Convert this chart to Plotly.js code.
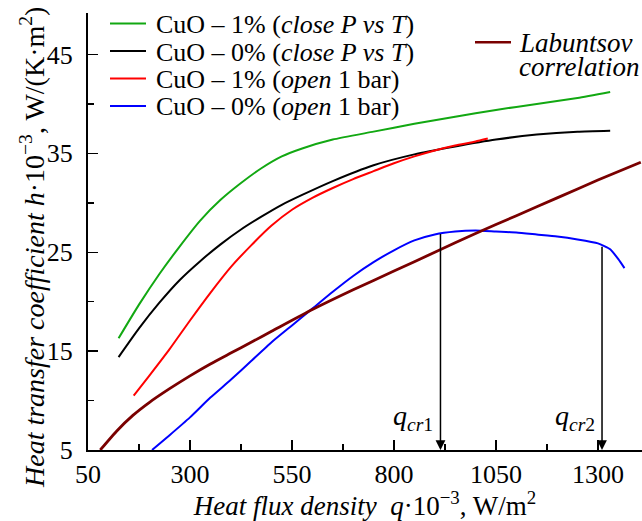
<!DOCTYPE html>
<html><head><meta charset="utf-8">
<script src="https://cdn.plot.ly/plotly-3.0.1.min.js"></script>
<style>html,body{margin:0;padding:0;background:#fff}#chart{width:642px;height:521px}</style>
</head><body><div id="chart"></div>
<script>
const FONT = 'Liberation Serif, Times New Roman, serif';

// Series names (legend)
const seriesNames = [
  'CuO \u2013 1% (<i>close P vs T</i>)',
  'CuO \u2013 0% (<i>close P vs T</i>)',
  'CuO \u2013 1% (<i>open</i> 1 bar)',
  'CuO \u2013 0% (<i>open</i> 1 bar)'
];
const labuntsovName = ['<i>Labuntsov</i>', '<i>correlation</i>'];

// Heat flux density q·10^-3 (W/m2) and heat transfer coefficient h·10^-3
const greenX = [125,175,225,275,325,375,425,475,525,575,650,750,850,950,1050,1150,1250,1330];
const greenY = [16.3,19.7,22.8,25.6,28.2,30.3,32.0,33.5,34.7,35.5,36.4,37.2,38.0,38.7,39.4,40.0,40.6,41.2];

const blackX = [125,175,225,275,325,375,425,475,525,575,650,750,850,950,1050,1150,1250,1330];
const blackY = [14.4,17.3,19.9,22.2,24.1,25.8,27.3,28.6,29.8,30.8,32.2,33.8,34.9,35.7,36.4,36.9,37.2,37.3];

const redX = [162,200,250,300,350,400,450,500,550,600,650,700,750,800,850,900,950,1000,1030];
const redY = [10.5,12.5,15.2,18.1,20.9,23.5,25.7,27.7,29.3,30.5,31.5,32.4,33.2,34.0,34.7,35.3,35.8,36.2,36.5];

const blueX = [207,250,300,350,400,450,500,550,600,650,700,750,800,850,900,950,1000,1050,1100,1150,1200,1250,1300,1330,1350,1365];
const blueY = [5.0,6.5,8.3,10.3,12.1,14.0,15.9,17.6,19.3,21.0,22.6,24.0,25.2,26.2,26.8,27.1,27.2,27.1,27.0,26.8,26.6,26.3,25.9,25.3,24.3,23.4];

const labX = [80,120,160,200,250,300,350,400,450,500,600,700,800,900,1000,1100,1200,1300,1405];
const labY = [5.0,6.9,8.5,9.8,11.2,12.5,13.7,14.8,15.9,17.0,19.2,21.2,23.1,25.0,26.9,28.7,30.5,32.3,34.1];

// Critical heat flux markers
const qcrX = [914, 1310];
const qcrTopY = [27.0, 25.7];
const qcrLabels = ['<i>q</i><sub><i>cr</i>1</sub>', '<i>q</i><sub><i>cr</i>2</sub>'];

const colors = ['#12a812', '#000000', '#ff0000', '#0000ff'];
const labColor = '#7a0000';

const xs = [greenX, blackX, redX, blueX];
const ys = [greenY, blackY, redY, blueY];

const traces = xs.map((x, i) => ({
  x: x, y: ys[i], type: 'scatter', mode: 'lines', name: seriesNames[i],
  line: {color: colors[i], width: 2, shape: 'spline', smoothing: 0.5},
  showlegend: false
}));
traces.push({
  x: labX, y: labY, type: 'scatter', mode: 'lines', name: 'Labuntsov correlation',
  line: {color: labColor, width: 2.8, shape: 'spline', smoothing: 0.5},
  showlegend: false
});

// plot area geometry (pixels) for paper conversions
const L = 88, T = 13, W = 554, H = 437;
const px = v => (v - L) / W;
const py = v => (T + H - v) / H;

const shapes = [];
const annotations = [];

// manual legend
const rowY = [23.5, 51, 78.5, 106];
seriesNames.forEach((n, i) => {
  shapes.push({type: 'line', xref: 'paper', yref: 'paper',
    x0: px(110), x1: px(146), y0: py(rowY[i]), y1: py(rowY[i]),
    line: {color: colors[i], width: 2}});
  annotations.push({xref: 'paper', yref: 'paper', x: px(154), y: py(rowY[i] + 1),
    xanchor: 'left', yanchor: 'middle', text: n, showarrow: false,
    font: {family: FONT, size: 26, color: '#000'}});
});
shapes.push({type: 'line', xref: 'paper', yref: 'paper',
  x0: px(475), x1: px(511), y0: py(42.3), y1: py(42.3),
  line: {color: labColor, width: 2.5}});
annotations.push({xref: 'paper', yref: 'paper', x: px(517), y: py(43), xanchor: 'left', yanchor: 'middle',
  text: labuntsovName[0], showarrow: false, font: {family: FONT, size: 27, color: '#000'}});
annotations.push({xref: 'paper', yref: 'paper', x: px(517), y: py(67), xanchor: 'left', yanchor: 'middle',
  text: labuntsovName[1], showarrow: false, font: {family: FONT, size: 27, color: '#000'}});

// q_cr arrows and labels
qcrX.forEach((q, i) => {
  annotations.push({x: q, y: 5, ax: q, ay: qcrTopY[i], xref: 'x', yref: 'y', axref: 'x', ayref: 'y',
    text: '', showarrow: true, arrowhead: 2, arrowsize: 1.3, arrowwidth: 1.5, arrowcolor: '#000', standoff: 0});
  annotations.push({x: q, y: 8.3, xref: 'x', yref: 'y', xanchor: 'right', yanchor: 'middle', xshift: -5,
    text: qcrLabels[i], showarrow: false, font: {family: FONT, size: 28, color: '#000'}});
});

// y-axis title as annotation (placed lower than plot centre as in reference)
annotations.push({xref: 'paper', yref: 'paper', x: px(33), y: py(248), xanchor: 'center', yanchor: 'middle',
  textangle: -90, showarrow: false,
  text: '<i>Heat transfer coefficient h</i>\u00B710<sup>\u22123</sup>, W/(K\u00B7m<sup>2</sup>)',
  font: {family: FONT, size: 28, color: '#000'}});

const layout = {
  width: 642, height: 521,
  margin: {l: L, r: 0, t: T, b: 521 - T - H},
  paper_bgcolor: '#fff', plot_bgcolor: '#fff',
  font: {family: FONT, size: 25, color: '#000'},
  showlegend: false,
  xaxis: {
    range: [50, 1408], tick0: 50, dtick: 250, ticks: 'inside', ticklen: 10, tickwidth: 1.5, tickcolor: '#000',
    minor: {ticks: 'inside', ticklen: 6, tickwidth: 1.5, tickcolor: '#000', tick0: 50, dtick: 125},
    showline: true, linewidth: 2, linecolor: '#000', showgrid: false, zeroline: false,
    tickfont: {family: FONT, size: 26, color: '#000'}, ticklabelstandoff: 0,
    title: {text: '<i>Heat flux density\u00A0\u00A0q</i>\u00B710<sup>\u22123</sup>, W/m<sup>2</sup>',
      font: {family: FONT, size: 27, color: '#000'}, standoff: 12}
  },
  yaxis: {
    range: [5, 49.2], tick0: 5, dtick: 10, ticks: 'inside', ticklen: 10, tickwidth: 1.5, tickcolor: '#000',
    minor: {ticks: 'inside', ticklen: 6, tickwidth: 1.5, tickcolor: '#000', tick0: 5, dtick: 5},
    showline: true, linewidth: 2, linecolor: '#000', showgrid: false, zeroline: false,
    tickfont: {family: FONT, size: 26, color: '#000'}, ticklabelstandoff: 8
  },
  shapes: shapes,
  annotations: annotations
};

Plotly.newPlot('chart', traces, layout, {staticPlot: true, displayModeBar: false});
</script>
</body></html>
